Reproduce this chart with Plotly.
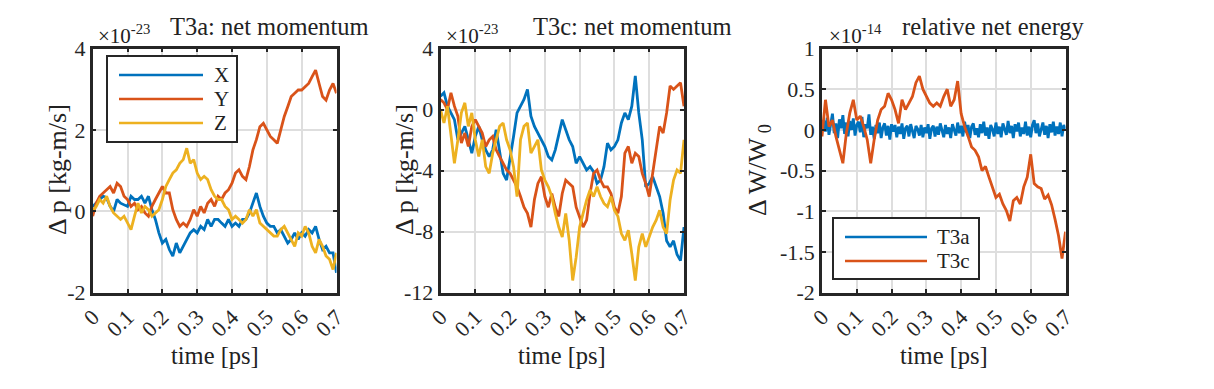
import numpy as np
import plotly.graph_objects as go

# time axis, 0.01 ps steps (0.005 ps for the dense T3a energy trace)
t = np.round(np.arange(71) * 0.01, 3)
t_fine = np.round(np.arange(141) * 0.005, 3)

# T3a net momentum (x1e-23 kg-m/s)
p1_x = [0.12, 0.20, 0.29, 0.37, 0.33, 0.12, 0.00, 0.29, 0.20, 0.16,
        0.12, 0.37, 0.29, 0.29, 0.37, 0.20, 0.37, 0.04, -0.20, -0.53,
        -0.78, -0.69, -0.94, -1.10, -0.78, -1.02, -0.86, -0.69, -0.53, -0.45,
        -0.53, -0.37, -0.45, -0.20, -0.37, -0.20, -0.20, -0.29, -0.37, -0.20,
        -0.37, -0.29, -0.37, -0.20, -0.20, -0.04, 0.20, 0.45, 0.12, -0.12,
        -0.29, -0.37, -0.37, -0.53, -0.45, -0.61, -0.78, -0.69, -0.53, -0.69,
        -0.53, -0.61, -0.45, -0.53, -0.37, -0.69, -0.94, -0.86, -1.02, -1.02,
        -1.51]
p1_y = [-0.12, 0.20, 0.37, 0.45, 0.53, 0.61, 0.45, 0.69, 0.61, 0.37,
        0.29, 0.12, 0.20, 0.04, 0.12, -0.04, -0.12, 0.12, 0.29, 0.45,
        0.61, 0.45, 0.45, 0.04, -0.20, -0.37, -0.29, -0.37, -0.20, 0.04,
        -0.12, 0.12, -0.04, 0.20, 0.29, 0.12, 0.37, 0.29, 0.45, 0.53,
        0.69, 0.94, 1.02, 0.86, 0.78, 1.10, 1.51, 1.76, 2.08, 2.16,
        2.00, 1.84, 1.76, 1.67, 2.00, 2.33, 2.57, 2.82, 2.90, 2.98,
        2.98, 3.06, 3.14, 3.31, 3.47, 3.14, 2.82, 2.73, 2.98, 3.14,
        2.90]
p1_z = [0.00, 0.12, 0.29, 0.20, 0.37, 0.12, -0.04, -0.12, -0.20, -0.12,
        -0.29, -0.45, -0.12, 0.20, -0.04, 0.12, 0.04, -0.12, -0.04, 0.04,
        0.29, 0.61, 0.78, 0.94, 1.02, 1.18, 1.27, 1.55, 1.18, 1.27,
        0.94, 0.78, 0.86, 0.78, 0.53, 0.37, 0.29, 0.29, 0.12, 0.04,
        -0.20, -0.12, -0.20, -0.29, -0.20, 0.04, -0.12, 0.04, -0.29, -0.37,
        -0.45, -0.53, -0.61, -0.61, -0.45, -0.37, -0.53, -0.69, -0.86, -0.53,
        -0.61, -0.37, -0.53, -0.86, -1.02, -0.69, -0.86, -1.10, -1.18, -1.43,
        -1.02]

# T3c net momentum (x1e-23 kg-m/s)
p2_x = [0.88, 1.10, 0.22, -0.22, -0.66, -1.98, -1.54, -1.10, -1.98, -2.86,
        -1.76, -1.10, -1.98, -2.64, -3.08, -2.64, -1.32, -2.64, -4.18, -4.62,
        -3.30, -1.76, -0.22, 0.22, 0.66, 1.32, -0.44, -1.10, -1.54, -1.98,
        -2.42, -3.08, -3.30, -2.64, -1.54, -0.66, -1.32, -1.98, -2.42, -3.52,
        -3.08, -3.52, -3.96, -3.74, -4.07, -4.84, -4.62, -3.74, -2.20, -2.64,
        -2.42, -1.98, -0.88, -0.22, -0.66, 0.22, 2.20, -0.22, -1.98, -5.06,
        -4.84, -4.40, -5.06, -5.70, -6.80, -8.60, -9.00, -8.60, -9.50, -9.90,
        -7.70]
p2_y = [0.66, 0.44, 0.00, 1.10, 0.22, -0.44, -2.20, -1.54, -2.42, -1.10,
        -0.66, -1.10, -1.54, -2.42, -1.98, -1.76, -2.64, -3.08, -3.52, -3.96,
        -4.18, -4.62, -5.06, -5.70, -6.40, -6.80, -7.70, -5.90, -4.84, -4.40,
        -5.70, -6.40, -5.50, -6.40, -7.00, -5.50, -4.62, -4.84, -5.06, -6.40,
        -7.00, -7.70, -7.25, -5.50, -4.18, -3.96, -4.62, -5.06, -5.06, -5.50,
        -6.40, -6.80, -5.70, -2.86, -2.42, -3.52, -2.86, -3.08, -4.18, -4.84,
        -5.70, -4.18, -2.64, -1.10, -1.54, -0.22, 1.54, 1.32, 1.54, 1.76,
        0.22]
p2_z = [0.00, -0.88, 0.22, -1.54, -3.52, -1.98, -0.22, 0.44, -1.10, -0.22,
        -1.98, -3.08, -1.98, -3.74, -4.18, -2.86, -1.98, -1.10, -0.88, -1.98,
        -2.64, -3.74, -5.70, -1.98, -1.10, -0.88, -2.86, -2.42, -1.98, -3.96,
        -4.62, -5.06, -5.70, -6.80, -7.70, -8.35, -6.80, -8.57, -11.20, -9.67,
        -7.70, -6.80, -5.93, -5.27, -5.70, -5.06, -5.70, -6.15, -6.37, -5.70,
        -6.60, -7.00, -8.13, -8.57, -7.90, -9.45, -11.20, -9.00, -8.13, -9.00,
        -8.35, -7.70, -7.25, -6.60, -7.70, -8.13, -5.93, -4.62, -3.96, -4.18,
        -1.98]

# relative net energy (x1e-14); T3a read at 0.005 ps, T3c at 0.01 ps
e_t3a = [0.05, 0.12, -0.02, 0.15, -0.06, 0.10, 0.20, -0.04, 0.08, -0.10, 0.13,
         0.02, 0.18, -0.05, 0.09, -0.08, 0.11, 0.00, 0.14, -0.07, 0.06,
         0.10, -0.03, 0.16, -0.09, 0.07, 0.02, 0.19, -0.06, 0.04, -0.11,
         0.06, -0.04, 0.09, -0.10, 0.03, 0.08, -0.07, 0.05, -0.12, 0.07,
         -0.02, 0.06, -0.09, 0.04, -0.05, 0.08, -0.11, 0.02, 0.05, -0.08,
         0.07, -0.03, -0.10, 0.05, 0.01, -0.07, 0.06, -0.09, 0.03, -0.04,
         0.07, -0.11, 0.02, 0.05, -0.08, 0.04, -0.06, 0.08, -0.02, -0.09,
         0.06, -0.05, 0.03, -0.10, 0.07, 0.00, -0.07, 0.09, -0.04, 0.05,
         -0.08, 0.10, -0.03, 0.06, -0.10, 0.04, 0.08, -0.06, 0.02, -0.09,
         0.07, -0.04, 0.10, -0.07, 0.03, -0.11, 0.06, 0.01, -0.08, 0.09,
         -0.05, 0.04, -0.09, 0.08, 0.00, -0.06, 0.11, -0.04, 0.05, -0.10,
         0.07, -0.02, 0.09, -0.08, 0.03, -0.05, 0.10, -0.07, 0.04, -0.09,
         0.06, 0.12, -0.04, 0.08, -0.08, 0.02, 0.09, -0.06, 0.05, -0.10,
         0.07, -0.03, 0.10, -0.07, 0.04, -0.05, 0.09, -0.08, 0.06, 0.01]
e_t3c = [-0.08, 0.37, 0.04, 0.12, -0.08, -0.25, -0.41, -0.04, 0.21, 0.37,
         0.12, 0.17, 0.04, -0.12, -0.41, -0.12, 0.12, 0.25, 0.29, 0.45,
         0.37, 0.25, 0.08, 0.37, 0.25, 0.33, 0.41, 0.58, 0.66, 0.50,
         0.41, 0.33, 0.29, 0.33, 0.29, 0.41, 0.50, 0.29, 0.37, 0.60,
         0.20, 0.04, -0.08, -0.21, -0.25, -0.33, -0.50, -0.45, -0.58, -0.70,
         -0.83, -0.79, -0.91, -0.99, -1.12, -0.87, -0.83, -0.91, -0.70, -0.58,
         -0.30, -0.66, -0.70, -0.72, -0.85, -0.80, -0.92, -1.10, -1.30, -1.58,
         -1.25]

x_ticks = [0, 0.1, 0.2, 0.3, 0.4, 0.5, 0.6, 0.7]
x_labels = ["0", "0.1", "0.2", "0.3", "0.4", "0.5", "0.6", "0.7"]
y1_ticks = [-2, 0, 2, 4]
y2_ticks = [-12, -8, -4, 0, 4]
y3_ticks = [-2, -1.5, -1, -0.5, 0, 0.5, 1]
y3_labels = ["-2", "-1.5", "-1", "-0.5", "0", "0.5", "1"]

blue, red, yellow = "#0072BD", "#D95319", "#EDB120"
W, H = 1206, 381
OFF = 8  # page body margin
FONT = "Liberation Serif"


def px(x):
    return (x - OFF) / W


def py(y):
    return 1 - (y - OFF) / H


fig = go.Figure()
for x_ax, y_ax, series in [
    ("x", "y", [(t, p1_x, blue), (t, p1_y, red), (t, p1_z, yellow)]),
    ("x2", "y2", [(t, p2_x, blue), (t, p2_y, red), (t, p2_z, yellow)]),
    ("x3", "y3", [(t_fine, e_t3a, blue), (t, e_t3c, red)]),
]:
    for tt, vals, col in series:
        fig.add_trace(go.Scatter(x=tt, y=vals, mode="lines", xaxis=x_ax, yaxis=y_ax,
                                 line=dict(color=col, width=2.8), showlegend=False))


def axis(domain, rng, tv, tt, anchor, angle=0):
    return dict(domain=domain, range=rng, tickvals=tv, ticktext=tt, anchor=anchor,
                automargin=False,
                showgrid=True, gridcolor="#dedede", gridwidth=1.6, zeroline=False,
                showline=True, linecolor="#262626", linewidth=2.5, mirror="ticks",
                ticks="inside", ticklen=4, tickwidth=1.5, tickcolor="#262626",
                tickangle=angle, tickfont=dict(size=22, family=FONT, color="#262626"))


ydom = [py(292.7), py(48.5)]
x_doms = [[px(92.7), px(336.5)], [px(440.5), px(684)], [px(822), px(1065.5)]]

fig.update_layout(
    template="none",
    width=W, height=H, margin=dict(l=0, r=0, t=0, b=0, autoexpand=False),
    paper_bgcolor="white", plot_bgcolor="white",
    font=dict(family=FONT, color="#222222"),
    xaxis=axis(x_doms[0], [0, 0.7], x_ticks, x_labels, "y", -45),
    xaxis2=axis(x_doms[1], [0, 0.7], x_ticks, x_labels, "y2", -45),
    xaxis3=axis(x_doms[2], [0, 0.7], x_ticks, x_labels, "y3", -45),
    yaxis=axis(ydom, [-2, 4], y1_ticks, [str(v) for v in y1_ticks], "x"),
    yaxis2=axis(ydom, [-12, 4], y2_ticks, [str(v) for v in y2_ticks], "x2"),
    yaxis3=axis(ydom, [-2, 1], y3_ticks, y3_labels, "x3"),
)

ann = []
# titles
for cx, txt in [(269, "T3a: net momentum"), (632, "T3c: net momentum"), (993, "relative net energy")]:
    ann.append(dict(x=px(cx), y=py(26), text=txt, font=dict(size=24.5)))
# exponent labels
for lx, txt in [(96, "×10<sup>-23</sup>"), (444, "×10<sup>-23</sup>"), (827, "×10<sup>-14</sup>")]:
    ann.append(dict(x=px(lx), y=py(34), text=txt, xanchor="left", font=dict(size=21)))
# axis labels
for d in x_doms:
    ann.append(dict(x=(d[0] + d[1]) / 2, y=py(355), text="time [ps]", font=dict(size=24.5)))
for lx, txt in [(57, "Δ p [kg-m/s]"), (404, "Δ p [kg-m/s]"), (759, "Δ W/W<sub> 0</sub>")]:
    ann.append(dict(x=px(lx), y=py(170), text=txt, textangle=-90, font=dict(size=26)))

shapes = []
# legend boxes drawn by hand (MATLAB style, long line samples)
legends = [
    ((107, 56, 237, 142), [(75, blue, "X"), (99, red, "Y"), (123, yellow, "Z")], 119, 203, 212),
    ((833, 218, 979, 279), [(237, blue, "T3a"), (261, red, "T3c")], 845, 927, 935),
]
for (x0, y0, x1, y1), rows, lx0, lx1, tx in legends:
    shapes.append(dict(type="rect", xref="paper", yref="paper", x0=px(x0), x1=px(x1),
                       y0=py(y1), y1=py(y0), fillcolor="white",
                       line=dict(color="#262626", width=2), layer="above"))
    for yy, col, lab in rows:
        shapes.append(dict(type="line", xref="paper", yref="paper", x0=px(lx0), x1=px(lx1),
                           y0=py(yy), y1=py(yy), line=dict(color=col, width=2.5), layer="above"))
        ann.append(dict(x=px(tx), y=py(yy), text=lab, xanchor="left", font=dict(size=21)))

for a in ann:
    a.update(xref="paper", yref="paper", showarrow=False)
    a.setdefault("xanchor", "center")
    a.setdefault("yanchor", "middle")

fig.update_layout(annotations=ann, shapes=shapes)
fig.write_html("out.html")
